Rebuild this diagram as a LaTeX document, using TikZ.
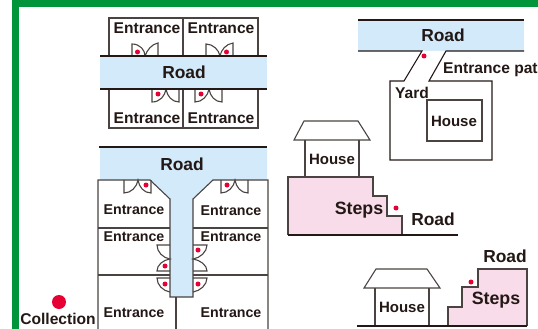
\documentclass[tikz,border=0pt]{standalone}
\usepackage{fontspec}
\setmainfont{Liberation Sans}
\definecolor{gr}{HTML}{00953B}
\definecolor{rd}{HTML}{E60033}
\definecolor{ln}{HTML}{4A4341}
\definecolor{ink}{HTML}{231815}
\definecolor{roadc}{HTML}{D2EAF9}
\definecolor{pinkc}{HTML}{F9DCEA}
\tikzset{
  wall/.style={draw=ln,line width=1.1pt,line join=miter},
  base/.style={draw=ink,line width=1.7pt},
  lab/.style={text=ink,inner sep=0pt,font=\bfseries\fontsize{14.2}{14.2}\selectfont},
  labw/.style={lab,font=\bfseries\fontsize{15.6}{15.6}\selectfont},
  labr/.style={lab,font=\bfseries\fontsize{17.4}{17.4}\selectfont},
  labs/.style={lab,font=\bfseries\fontsize{17.8}{17.8}\selectfont},
  labh/.style={lab,font=\bfseries\fontsize{15}{15}\selectfont},
  site/.style={fill=rd,draw=none,circle,inner sep=0pt,minimum size=5pt},
}
\begin{document}
\begin{tikzpicture}[x=1pt,y=-1pt]
\useasboundingbox (0,0) rectangle (538,329);
\clip (0,0) rectangle (538,329);
% frame
\fill[gr] (12,0) rectangle (538,7);
\fill[gr] (12,0) rectangle (19,329);

% --- top-left block
\draw[wall] (109,56) -- (109,18) -- (258,18) -- (258,56);
\draw[wall] (183,18) -- (183,56);
\draw[wall] (109,89) -- (109,128) -- (258,128) -- (258,89);
\draw[wall] (183,89) -- (183,128);
% doors
\draw[wall] (132,56) -- (132,44) .. controls (140,44) and (145,50) .. (145,56) .. controls (147,50) and (152,44) .. (158,43) -- (158,56);
\draw[wall] (206,56) -- (206,44) .. controls (213,44) and (219,50) .. (220,56) .. controls (221,50) and (226,44) .. (233,43) -- (233,56);
\draw[wall] (152,89) -- (152,102) .. controls (160,102) and (165,96) .. (166,89) .. controls (167,96) and (172,102) .. (179,102) -- (179,89);
\draw[wall] (195,89) -- (195,102) .. controls (202,102) and (208,96) .. (209,89) .. controls (210,96) and (215,102) .. (222,102) -- (222,89);
\fill[roadc] (100,56) rectangle (267,89);
\draw[base,line width=1.1pt] (100,56) -- (267,56) (100,89) -- (267,89);
\node[labr] (r1) at (184,72) {Road};
\node[labw] (e1) at (147,28) {Entrance};
\node[labw] (e2) at (221,28) {Entrance};
\node[labw] (e3) at (147,118) {Entrance};
\node[labw] (e4) at (221,118) {Entrance};
\node[site] (d1) at (137.5,52) {};
\node[site] (d2) at (226.5,52) {};
\node[site] (d3) at (158,94) {};
\node[site] (d4) at (201,94) {};

% --- T-road block
\fill[roadc] (100,148) -- (267,148) -- (267,180) -- (213,180) -- (193,199) -- (193,297) -- (170,297) -- (170,199) -- (150,180) -- (100,180) -- cycle;
\draw[base,line width=1.1pt] (99,147) -- (267,147);
\draw[wall] (98,329) -- (98,180) -- (150,180) -- (170,199) -- (170,297) -- (193,297) -- (193,199) -- (213,180) -- (268,180) -- (268,329);
\draw[wall] (98,228) -- (170,228) (193,228) -- (268,228);
\draw[wall] (98,275) -- (170,275) (193,275) -- (268,275);
\draw[wall] (176,297) -- (176,329);
% top doors
\draw[wall] (124,180) -- (124,193) .. controls (131,193) and (137,187) .. (138,180) .. controls (139,187) and (144,193) .. (151,193) -- (151,180);
\draw[wall] (221,180) -- (221,193) .. controls (228,193) and (234,187) .. (235,180) .. controls (236,187) and (241,193) .. (248,193) -- (248,180);
% side doors
\draw[wall] (170,245) -- (157,245) .. controls (157,252) and (163,258) .. (170,259) .. controls (163,260) and (157,265) .. (157,271) -- (170,271);
\draw[wall] (193,245) -- (207,245) .. controls (207,252) and (200,258) .. (193,259) .. controls (200,260) and (207,265) .. (207,271) -- (193,271);
\draw[wall] (170,278) -- (157,278) .. controls (157,285) and (163,291) .. (170,292);
\draw[wall] (193,278) -- (207,278) .. controls (207,285) and (200,291) .. (193,292);
\node[labr] (r2) at (182,164) {Road};
\node[lab] (e5) at (134,210) {Entrance};
\node[lab] (e6) at (231,211) {Entrance};
\node[lab] (e7) at (134,237) {Entrance};
\node[lab] (e8) at (231,237) {Entrance};
\node[lab] (e9) at (134,313) {Entrance};
\node[lab] (e10) at (231,313) {Entrance};
\node[site] (d5) at (146,185) {};
\node[site] (d6) at (227,185) {};
\node[site] (d7) at (165,266) {};
\node[site] (d8) at (198,250) {};
\node[site] (d9) at (165,284) {};
\node[site] (d10) at (198,284) {};

% legend
\node[fill=rd,draw=none,circle,inner sep=0pt,minimum size=14pt] (key) at (59,302) {};
\node[lab,font=\bfseries\fontsize{15.6}{15.6}\selectfont,anchor=base] (coll) at (58,324) {Collection};

% --- yard
\fill[roadc] (358,20) rectangle (524,51);
\fill[white] (404,81) -- (422,51) -- (446,51) -- (429,81) -- cycle;
\draw[base,line width=1.1pt] (358,20) -- (524,20);
\draw[wall,draw=ink] (358,51) -- (422,51) -- (404,81) -- (390,81) -- (390,160) -- (492,160) -- (492,81) -- (429,81) -- (446,51) -- (524,51);
\draw[wall] (427,100) rectangle (482,141);
\node[labr] (r3) at (443,35) {Road};
\node[labw,anchor=base west] (path) at (443,74) {Entrance path};
\node[labw] (yard) at (412,93) {Yard};
\node[labh] (h1) at (454,121) {House};
\node[site] (d11) at (424,56) {};

% --- house above steps
\draw[wall,fill=pinkc] (288,235) -- (288,177) -- (373,177) -- (373,196) -- (387,196) -- (387,216) -- (402,216) -- (402,235);
\draw[wall] (294,140) -- (304,121) -- (358,121) -- (370,140) -- cycle;
\draw[wall] (305,140) -- (305,177) (359,140) -- (359,177);
\draw[base] (288,235) -- (458,235);
\node[labh] (h2) at (332,159) {House};
\node[labs] (s1) at (359,210) {Steps};
\node[labr] (r4) at (433,219) {Road};
\node[site] (d12) at (396,208) {};

% --- house below steps
\draw[wall,fill=pinkc] (448,326) -- (448,307) -- (462,307) -- (462,287) -- (478,287) -- (478,269) -- (527,269) -- (527,326);
\draw[wall] (364,288) -- (376,269) -- (427,269) -- (440,288) -- cycle;
\draw[wall] (375,288) -- (375,326) (429,288) -- (429,326);
\draw[base] (357,326) -- (527,326);
\node[labh] (h3) at (402,307) {House};
\node[labs] (s2) at (496,300) {Steps};
\node[labr] (r5) at (505,256) {Road};
\node[site] (d13) at (471,282) {};
\end{tikzpicture}
\end{document}
